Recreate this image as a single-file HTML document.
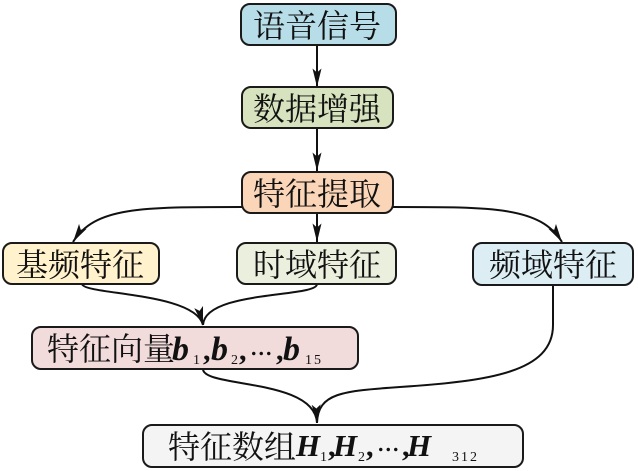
<!DOCTYPE html>
<html>
<head>
<meta charset="utf-8">
<style>
  html,body{margin:0;padding:0;background:#fff;}
  svg{display:block;}
  .cjk{font-family:"Liberation Serif","Noto Serif CJK SC","Noto Serif CJK JP","Noto Sans CJK SC",serif;font-size:32px;fill:#111;}
  .m{font-family:"Liberation Serif",serif;font-weight:bold;font-style:italic;font-size:31px;fill:#111;}
  .mb{font-family:"Liberation Serif",serif;font-weight:bold;font-style:italic;font-size:34px;fill:#111;}
  .p{font-family:"Liberation Serif",serif;font-weight:bold;font-size:30px;fill:#111;}
  .d{font-family:"Liberation Serif",serif;font-size:30px;fill:#111;}
  .s{font-family:"Liberation Serif",serif;font-size:14px;fill:#111;}
  .box{stroke:#1a1a1a;stroke-width:2;}
  .ln{fill:none;stroke:#111;stroke-width:2;}
</style>
</head>
<body>
<svg width="638" height="471" viewBox="0 0 638 471" xmlns="http://www.w3.org/2000/svg">
  <defs>
    <marker id="ar" markerUnits="userSpaceOnUse" viewBox="0 0 19 10" markerWidth="19" markerHeight="10" refX="18.5" refY="5" orient="auto">
      <path d="M0,0.5 L18.5,5 L0,9.5 L4,5 Z" fill="#111"/>
    </marker>
  </defs>

  <!-- connectors -->
  <path class="ln" d="M317,45 L317,87" marker-end="url(#ar)"/>
  <path class="ln" d="M317,128 L317,171" marker-end="url(#ar)"/>
  <path class="ln" d="M317,213 L317,242" marker-end="url(#ar)"/>
  <path class="ln" d="M242,207 C140,207 95,207 73,242" marker-end="url(#ar)"/>
  <path class="ln" d="M393,207 C495,207 540,207 562,242" marker-end="url(#ar)"/>
  <path class="ln" d="M82,284 C84,295 195,292 203,325" marker-end="url(#ar)"/>
  <path class="ln" d="M317,284 C317,298 205,290 203,325"/>
  <path class="ln" d="M203,369 C203,388 315,378 317,423" marker-end="url(#ar)"/>
  <path class="ln" d="M553,285 L553,325 C553,372 490,381 400,387 C342,391 318,393 317,423"/>

  <!-- boxes -->
  <rect class="box" x="241" y="4" width="155" height="41" rx="9" fill="#b7dde8"/>
  <rect class="box" x="242" y="87" width="151" height="41" rx="9" fill="#d7e3bf"/>
  <rect class="box" x="242" y="172" width="151" height="41" rx="9" fill="#fbd5b8"/>
  <rect class="box" x="3" y="243" width="156" height="41" rx="9" fill="#fff2cc"/>
  <rect class="box" x="237" y="243" width="159" height="41" rx="9" fill="#ebf0de"/>
  <rect class="box" x="473" y="243" width="160" height="42" rx="9" fill="#dcedf4"/>
  <rect class="box" x="32" y="327" width="326" height="42" rx="9" fill="#f2dcdb"/>
  <rect class="box" x="143" y="425" width="380" height="42" rx="9" fill="#f4f4f4"/>

  <!-- labels -->
  <text class="cjk" x="317" y="37" text-anchor="middle">语音信号</text>
  <text class="cjk" x="317" y="120" text-anchor="middle">数据增强</text>
  <text class="cjk" x="317" y="205" text-anchor="middle">特征提取</text>
  <text class="cjk" x="80" y="276" text-anchor="middle">基频特征</text>
  <text class="cjk" x="317" y="276" text-anchor="middle">时域特征</text>
  <text class="cjk" x="553" y="276" text-anchor="middle">频域特征</text>

  <text class="cjk" x="47" y="360">特征向量</text>
  <text class="mb" x="172" y="360">b</text>
  <text class="s" x="193" y="364">1</text>
  <text class="p" x="203" y="360">,</text>
  <text class="mb" x="211" y="360">b</text>
  <text class="s" x="231" y="364">2</text>
  <text class="p" x="239" y="360">,</text>
  <text class="d" x="250" y="355">...</text>
  <text class="p" x="276" y="360">,</text>
  <text class="mb" x="283" y="360">b</text>
  <text class="s" x="305" y="364" letter-spacing="2">15</text>

  <text class="cjk" x="168" y="458">特征数组</text>
  <text class="m" x="296" y="456">H</text>
  <text class="s" x="320" y="461">1</text>
  <text class="p" x="328" y="456">,</text>
  <text class="m" x="333" y="456">H</text>
  <text class="s" x="358" y="461">2</text>
  <text class="p" x="366" y="456">,</text>
  <text class="d" x="377" y="451">...</text>
  <text class="p" x="402" y="456">,</text>
  <text class="m" x="407" y="456">H</text>
  <text class="s" x="452" y="461" letter-spacing="2">312</text>
</svg>
</body>
</html>
